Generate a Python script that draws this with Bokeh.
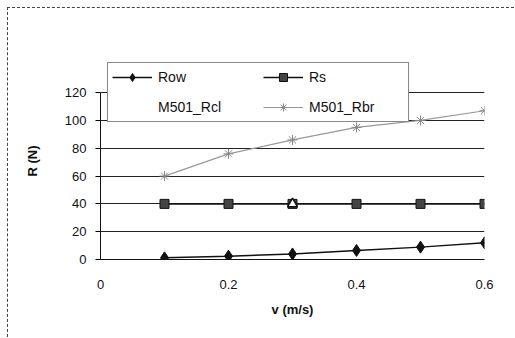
from bokeh.plotting import figure
from bokeh.models import Legend, LegendItem, Range1d, FixedTicker
from bokeh.embed import file_html
from bokeh.resources import INLINE

v = [0.1, 0.2, 0.3, 0.4, 0.5, 0.6]
row = [1.2, 2.4, 4.0, 6.5, 8.9, 12.0]
rs = [40, 40, 40, 40, 40, 40]
rcl_v = [0.3]
rcl = [40]
rbr = [60, 76, 86, 95, 100, 107]
x_ticks = [0, 0.2, 0.4, 0.6]
y_ticks = [0, 20, 40, 60, 80, 100, 120]

FONT = "Liberation Sans"
OFF = 7  # outer frame offset

# frame: x 100..483, y 62..258 in window; value 120 at y=92
top_border = 62 - OFF - 1
y_end = 120 * (258 - 62) / (258 - 92)

p = figure(width=515 - OFF - 1, height=338 - OFF - 1, output_backend="svg", toolbar_location=None,
           x_range=Range1d(0, 0.6), y_range=Range1d(0, y_end),
           min_border_left=100 - OFF - 1, min_border_right=31, min_border_top=top_border,
           min_border_bottom=79)
p.styles = {"margin-left": "%dpx" % OFF, "margin-top": "%dpx" % OFF,
            "border-top": "1px dashed #444", "border-left": "1px dashed #444"}
p.background_fill_color = "white"
p.border_fill_color = "white"
p.outline_line_color = None

p.xgrid.ticker = FixedTicker(ticks=[0.6])
p.xgrid.bounds = (0, 120)
p.xgrid.grid_line_color = "#111111"
p.xgrid.grid_line_width = 1
p.ygrid.ticker = FixedTicker(ticks=[20, 40, 60, 80, 100, 120])
p.ygrid.grid_line_color = "#222222"
p.ygrid.grid_line_width = 1

p.xaxis.ticker = FixedTicker(ticks=x_ticks)
p.yaxis.ticker = FixedTicker(ticks=y_ticks)
p.yaxis.bounds = (0, 120)
p.xaxis.axis_line_color = "#111111"
p.xaxis.major_tick_line_color = None
p.xaxis.minor_tick_line_color = None
p.xaxis.major_label_standoff = 14
p.yaxis.minor_tick_line_color = None
p.yaxis.major_tick_out = 5
p.yaxis.major_tick_in = 0
p.yaxis.major_label_standoff = 9
p.yaxis.axis_line_color = "#111111"
for ax in (p.xaxis, p.yaxis):
    ax.major_label_text_font = FONT
    ax.major_label_text_font_size = "13px"
    ax.major_label_text_color = "#111111"
    ax.axis_label_text_font = FONT
    ax.axis_label_text_font_size = "13px"
    ax.axis_label_text_font_style = "bold"
    ax.axis_label_text_color = "#111111"
p.xaxis.axis_label = "v (m/s)"
p.yaxis.axis_label = "R (N)"
p.xaxis.axis_label_standoff = 10
p.yaxis.axis_label_standoff = 22

# Rbr
l_rbr = p.line(v, rbr, line_color="#999999", line_width=1.2)
m_rbr = p.scatter(v, rbr, marker="asterisk", size=10, line_color="#888888", line_width=1)
# Rs
l_rs = p.line(v, rs, line_color="#111111", line_width=1.5)
m_rs = p.scatter(v, rs, marker="square", size=9, line_color="#111111", fill_color="#444444")
# Rcl
l_rcl = p.line(rcl_v, rcl, line_color="white", line_alpha=0)
m_rcl = p.scatter(rcl_v, rcl, marker="triangle", size=10, line_color="#111111", fill_color="white", line_width=1.5)
# Row
l_row = p.line(v, row, line_color="#111111", line_width=1.5)
m_row = p.scatter(v, row, marker="diamond", size=12, line_color="#111111", fill_color="#111111")

legend = Legend(items=[
    LegendItem(label="Row", renderers=[l_row, m_row]),
    LegendItem(label="M501_Rcl", renderers=[l_rcl]),
    LegendItem(label="Rs", renderers=[l_rs, m_rs]),
    LegendItem(label="M501_Rbr", renderers=[l_rbr, m_rbr]),
], location=(7, 137), ncols=2)
legend.label_text_font = FONT
legend.label_text_font_size = "14px"
legend.label_text_color = "#111111"
legend.glyph_width = 40
legend.glyph_height = 20
legend.spacing = 10
legend.label_standoff = 6
legend.label_width = 95
legend.padding = 4
legend.margin = 0
legend.border_line_color = "#111111"
legend.background_fill_color = "white"
legend.background_fill_alpha = 1
p.add_layout(legend, "center")

open("out.html", "w").write(file_html(p, INLINE))
